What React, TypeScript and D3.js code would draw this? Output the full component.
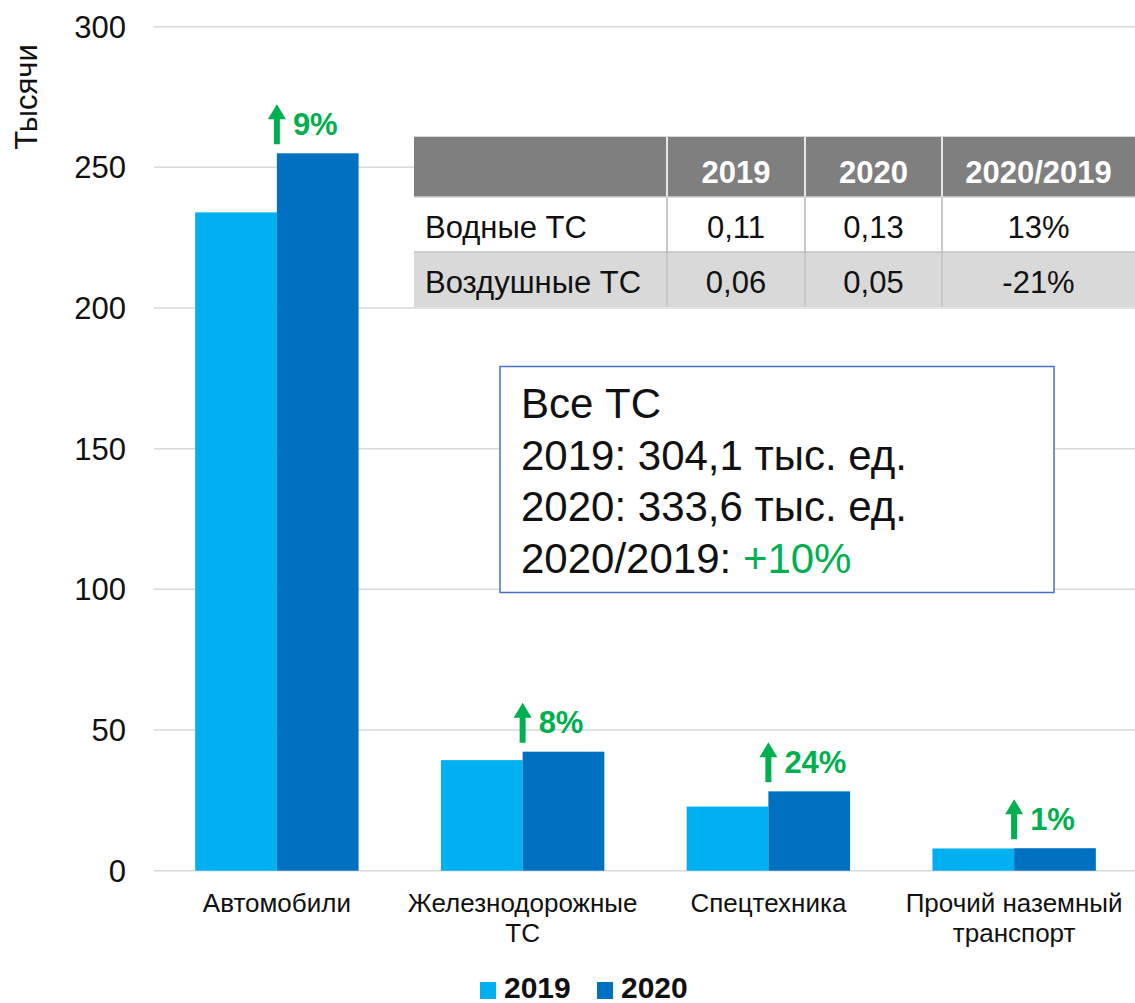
import * as d3 from 'd3'

const categories = ['Автомобили', 'Железнодорожные ТС', 'Спецтехника', 'Прочий наземный транспорт']
const categoryLines = [['Автомобили'], ['Железнодорожные', 'ТС'], ['Спецтехника'], ['Прочий наземный', 'транспорт']]
const series = ['2019', '2020']
const values2019 = [234.0, 39.3, 22.8, 7.9]
const values2020 = [255.0, 42.3, 28.2, 8.0]
const growthLabels = ['9%', '8%', '24%', '1%']
const yTicks = [0, 50, 100, 150, 200, 250, 300]
const yTitle = 'Тысячи'

const tableHeader = ['', '2019', '2020', '2020/2019']
const tableRows = [
  ['Водные ТС', '0,11', '0,13', '13%'],
  ['Воздушные ТС', '0,06', '0,05', '-21%'],
]
const boxLines = ['Все ТС', '2019: 304,1 тыс. ед.', '2020: 333,6 тыс. ед.']
const boxLastPrefix = '2020/2019: '
const boxLastValue = '+10%'

const colors = ['#00b0f0', '#0070c0']
const green = '#00b050'
const font = 'Arial, "Liberation Sans", sans-serif'

const W = 1135
const H = 1003

export default function App() {
  const x0 = d3
    .scaleBand()
    .domain(categories)
    .range([154, 1137])
    .paddingInner(0.335)
    .paddingOuter(0.1675)
  const x1 = d3.scaleBand().domain(series).range([0, x0.bandwidth()])
  const y = d3.scaleLinear().domain([0, 300]).range([870.7, 26.7])

  const data = categories.map((c, i) => ({
    c,
    vals: [values2019[i], values2020[i]],
  }))

  // table geometry
  const colEdges = [414, 667, 805, 942, 1135]
  const rowEdges = [136.7, 197, 252, 307]

  const arrow = (cx: number, yb: number) => {
    const len = 40
    const head = 15
    const hw = 9
    const sw = 3
    return `M${cx - sw},${yb} L${cx - sw},${yb - len + head} L${cx - hw},${yb - len + head} L${cx},${yb - len} L${cx + hw},${yb - len + head} L${cx + sw},${yb - len + head} L${cx + sw},${yb} Z`
  }

  return (
    <div style={{ position: 'absolute', left: 0, top: 0, width: W, height: H, background: '#fff' }}>
      <svg width={W} height={H} style={{ display: 'block', fontFamily: font }}>
        {/* grid */}
        {yTicks.map((t) => (
          <line key={t} x1={154} x2={W} y1={y(t)} y2={y(t)} stroke="#d9d9d9" strokeWidth={1.5} />
        ))}
        {/* y tick labels */}
        <g fontSize={31} fill="#111" textAnchor="end">
          {yTicks.map((t) => (
            <text key={t} x={126} y={y(t) + 11}>
              {t}
            </text>
          ))}
        </g>
        <text
          transform={`translate(37,97) rotate(-90)`}
          textAnchor="middle"
          fontSize={31}
          fill="#111"
        >
          {yTitle}
        </text>

        {/* bars */}
        {data.map((d) => (
          <g key={d.c} transform={`translate(${x0(d.c)},0)`}>
            {d.vals.map((v, j) => (
              <rect
                key={j}
                x={x1(series[j])}
                y={y(v)}
                width={x1.bandwidth()}
                height={y(0) - y(v)}
                fill={colors[j]}
              />
            ))}
          </g>
        ))}

        {/* growth arrows */}
        {data.map((d, i) => {
          const cx = (x0(d.c) as number) + x0.bandwidth() / 2
          const top = y(d.vals[1])
          return (
            <g key={d.c}>
              <path d={arrow(cx, top - 9)} fill={green} />
              <text x={cx + 16} y={top - 18.5} fontSize={31} fontWeight="bold" fill={green}>
                {growthLabels[i]}
              </text>
            </g>
          )
        })}

        {/* category labels */}
        <g fontSize={26} fill="#111" textAnchor="middle">
          {categories.map((c, i) => (
            <text key={c} x={(x0(c) as number) + x0.bandwidth() / 2} y={912}>
              {categoryLines[i].map((ln, k) => (
                <tspan key={k} x={(x0(c) as number) + x0.bandwidth() / 2} dy={k === 0 ? 0 : 30}>
                  {ln}
                </tspan>
              ))}
            </text>
          ))}
        </g>

        {/* table */}
        <g>
          <rect x={colEdges[0]} y={rowEdges[0]} width={colEdges[4] - colEdges[0]} height={rowEdges[1] - rowEdges[0]} fill="#7f7f7f" />
          <rect x={colEdges[0]} y={rowEdges[1]} width={colEdges[4] - colEdges[0]} height={rowEdges[2] - rowEdges[1]} fill="#ffffff" />
          <rect x={colEdges[0]} y={rowEdges[2]} width={colEdges[4] - colEdges[0]} height={rowEdges[3] - rowEdges[2]} fill="#d9d9d9" />
          {colEdges.slice(1, 4).map((cx) => (
            <g key={cx}>
              <line x1={cx} x2={cx} y1={rowEdges[0]} y2={rowEdges[1]} stroke="#e6e6e6" strokeWidth={2} />
              <line x1={cx} x2={cx} y1={rowEdges[1]} y2={rowEdges[3]} stroke="#c8c8c8" strokeWidth={2} />
            </g>
          ))}
          <line x1={colEdges[0]} x2={colEdges[4]} y1={rowEdges[1]} y2={rowEdges[1]} stroke="#d0d0d0" strokeWidth={1.5} />
          <line x1={colEdges[0]} x2={colEdges[4]} y1={rowEdges[2]} y2={rowEdges[2]} stroke="#c0c0c0" strokeWidth={1.5} />
          {tableHeader.map((h, k) =>
            k === 0 ? null : (
              <text
                key={k}
                x={(colEdges[k] + colEdges[k + 1]) / 2}
                y={182.7}
                textAnchor="middle"
                fontSize={31}
                fontWeight="bold"
                fill="#fff"
              >
                {h}
              </text>
            )
          )}
          {tableRows.map((r, ri) =>
            r.map((cell, k) => (
              <text
                key={`${ri}-${k}`}
                x={k === 0 ? 425 : (colEdges[k] + colEdges[k + 1]) / 2}
                y={(rowEdges[ri + 1] + rowEdges[ri + 2]) / 2 + 13.8}
                textAnchor={k === 0 ? 'start' : 'middle'}
                fontSize={31}
                fill="#111"
              >
                {cell}
              </text>
            ))
          )}
        </g>

        {/* summary box */}
        <rect x={500} y={366.5} width={554} height={226} fill="#fff" stroke="#4472c4" strokeWidth={1.5} />
        <g fontSize={42} fill="#111">
          {boxLines.map((ln, k) => (
            <text key={k} x={521} y={418 + k * 51.5}>
              {ln}
            </text>
          ))}
          <text x={521} y={418 + 3 * 51.5}>
            {boxLastPrefix}
            <tspan fill={green}>{boxLastValue}</tspan>
          </text>
        </g>

        {/* legend */}
        <g>
          <rect x={480} y={982} width={16} height={17} fill={colors[0]} />
          <text x={504} y={998} fontSize={30} fontWeight="bold" fill="#111">
            {series[0]}
          </text>
          <rect x={597} y={982} width={16} height={17} fill={colors[1]} />
          <text x={621} y={998} fontSize={30} fontWeight="bold" fill="#111">
            {series[1]}
          </text>
        </g>
      </svg>
    </div>
  )
}
